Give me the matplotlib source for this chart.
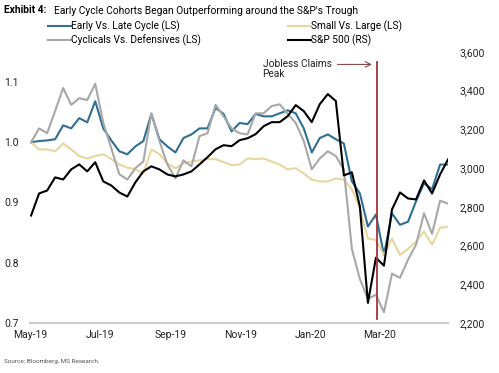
import numpy as np
import pandas as pd
import matplotlib
matplotlib.use("Agg")
import matplotlib.pyplot as plt
import matplotlib.dates as mdates

plt.rcParams['font.family'] = ['Roboto', 'DejaVu Sans']

# weekly observations, May-19 to Apr-20
dates = pd.date_range("2019-05-02", periods=53, freq="7D")

early_late = [1.000, 1.002, 1.003, 1.005, 1.028, 1.023, 1.040, 1.033, 1.068, 1.023,
              1.003, 0.985, 0.980, 0.993, 1.002, 1.047, 1.005, 0.993, 0.983, 1.007,
              1.013, 1.023, 1.023, 1.057, 1.047, 1.018, 1.032, 1.030, 1.047, 1.043,
              1.043, 1.048, 1.053, 1.048, 1.023, 0.983, 1.007, 1.013, 1.005, 0.998,
              0.935, 0.915, 0.860, 0.880, 0.813, 0.882, 0.863, 0.868, 0.902, 0.932,
              0.922, 0.963, 0.963]
small_large = [1.000, 0.988, 0.988, 0.985, 0.998, 0.988, 0.977, 0.973, 0.977, 0.980,
               0.972, 0.963, 0.958, 0.955, 0.948, 0.988, 0.980, 0.965, 0.957, 0.965,
               0.968, 0.970, 0.972, 0.972, 0.967, 0.962, 0.963, 0.973, 0.972, 0.973,
               0.968, 0.963, 0.955, 0.957, 0.948, 0.938, 0.935, 0.935, 0.940, 0.938,
               0.922, 0.890, 0.840, 0.838, 0.813, 0.840, 0.813, 0.823, 0.835, 0.852,
               0.830, 0.858, 0.860]
cyc_def = [1.000, 1.023, 1.015, 1.052, 1.090, 1.062, 1.073, 1.070, 1.097, 1.032,
           0.990, 0.947, 0.938, 0.957, 0.968, 1.048, 1.002, 0.963, 0.940, 0.970,
           0.960, 1.010, 1.015, 1.062, 1.043, 1.023, 1.015, 1.013, 1.048, 1.048,
           1.060, 1.063, 1.047, 1.032, 1.002, 0.955, 0.973, 0.985, 0.977, 0.955,
           0.823, 0.773, 0.740, 0.747, 0.718, 0.782, 0.775, 0.805, 0.830, 0.882,
           0.848, 0.903, 0.898]
spx = [2755, 2869, 2884, 2952, 2941, 2993, 3019, 2983, 3030, 2931,
       2910, 2874, 2853, 2926, 2983, 3009, 2993, 2967, 2957, 2967,
       2983, 3019, 3056, 3097, 3118, 3113, 3144, 3154, 3175, 3216,
       3237, 3237, 3268, 3325, 3294, 3237, 3330, 3382, 3346, 2962,
       2978, 2801, 2304, 2537, 2496, 2786, 2874, 2843, 2838, 2936,
       2869, 2967, 3045]

peak_date = pd.Timestamp("2020-02-28")

fig = plt.figure(figsize=(4.99, 3.73), dpi=100)
ax = fig.add_axes([0.060, 0.134, 0.838, 0.727])
ax2 = ax.twinx()

l1, = ax.plot(dates, early_late, color='#2f6f93', lw=1.5, label='Early Vs. Late Cycle (LS)')
l2, = ax.plot(dates, small_large, color='#e8d6a0', lw=1.5, label='Small Vs. Large (LS)')
l3, = ax.plot(dates, cyc_def, color='#a8a8a8', lw=1.5, label='Cyclicals Vs. Defensives (LS)')
l4, = ax2.plot(dates, spx, color='black', lw=1.5, label='S&P 500 (RS)')

ax2.axvline(peak_date, ymin=0.015, ymax=0.963, color='#a3333a', lw=1.3, zorder=5)
ax2.annotate('', xy=(peak_date - pd.Timedelta(days=2), 3535), xytext=(pd.Timestamp("2020-01-22"), 3535),
             arrowprops=dict(arrowstyle='->', color='#8c4a4a', lw=0.8))
ax2.text(pd.Timestamp("2019-11-20"), 3565, 'Jobless Claims\nPeak', fontsize=7.3,
         va='top', ha='left', linespacing=1.05, color='#222222')

ax.set_ylim(0.7, 1.15)
ax2.set_ylim(2200, 3600)
ax.set_xlim(pd.Timestamp("2019-05-01"), pd.Timestamp("2020-04-30"))
ax.set_yticks([0.7, 0.8, 0.9, 1.0, 1.1])
ax.set_yticklabels(['0.7', '0.8', '0.9', '1.0', '1.1'])
ax2.set_yticks(range(2200, 3601, 200))
ax2.set_yticklabels(['{:,}'.format(v) for v in range(2200, 3601, 200)])

ax.xaxis.set_major_locator(mdates.MonthLocator(bymonth=[1, 3, 5, 7, 9, 11]))
ax.xaxis.set_major_formatter(mdates.DateFormatter('%b-%y'))

for a in (ax, ax2):
    for s in ['top', 'left', 'right']:
        a.spines[s].set_visible(False)
    a.spines['bottom'].set_color('#cccccc')
    a.spines['bottom'].set_linewidth(1.5)
    a.tick_params(length=0, labelsize=7.5, colors='#222222')
ax.tick_params(axis='y', pad=8)
ax2.tick_params(axis='y', pad=8)
ax.tick_params(axis='x', pad=5)

fig.text(0.008, 0.972, 'Exhibit 4:', fontsize=7.4, fontweight='bold', va='center', ha='left')
fig.text(0.108, 0.972, "Early Cycle Cohorts Began Outperforming around the S&P's Trough",
         fontsize=7.4, va='center', ha='left')
fig.text(0.008, 0.03, 'Source: Bloomberg, MS Research.', fontsize=4.6, color='#555555',
         va='center', ha='left')

leg_kw = dict(loc='upper left', frameon=False, fontsize=7.3, handlelength=2.3,
              handletextpad=0.0, labelspacing=0.25, borderpad=0, borderaxespad=0)
leg1 = fig.legend(handles=[l1, l3], bbox_to_anchor=(0.096, 0.945), **leg_kw)
fig.legend(handles=[l2, l4], bbox_to_anchor=(0.577, 0.945), **leg_kw)

fig.savefig('out.png', dpi=100)
